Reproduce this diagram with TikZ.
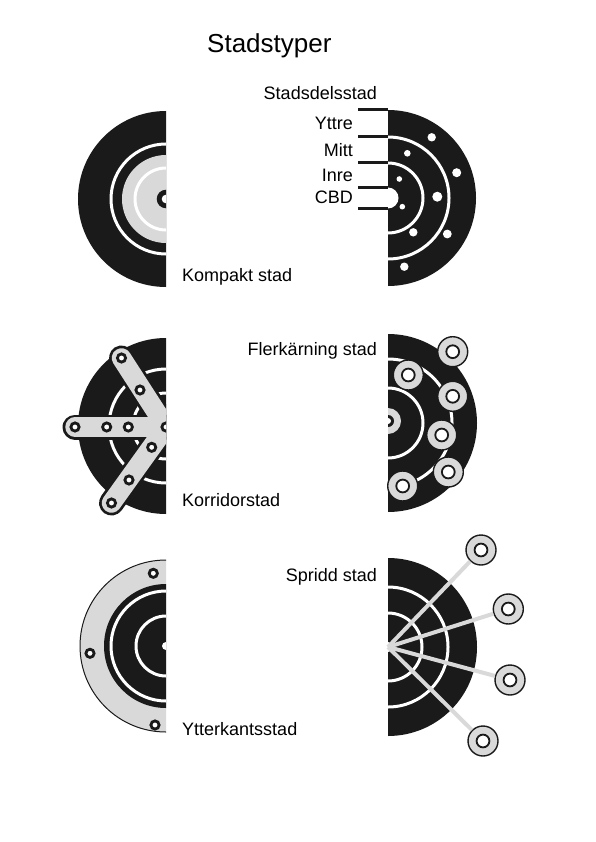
\documentclass[tikz,border=0pt]{standalone}
\usepackage{fontspec}
\setmainfont{Liberation Sans}
\usetikzlibrary{positioning}
\definecolor{cityblack}{RGB}{26,26,26}
\definecolor{citygray}{RGB}{217,217,217}
\tikzset{
    % Zone styles
    ring gap/.style={draw=white, line width=3pt},
    % Marker styles
    hole/.style={circle, draw=cityblack, fill=white, line width=2.8pt,
                 minimum size=8.2pt, inner sep=0pt},
    spot/.style={circle, fill=white, inner sep=0pt},
    subcentre/.style={circle, draw=cityblack, line width=1.4pt, fill=citygray,
                      minimum size=30pt, inner sep=0pt,
                      path picture={\draw[cityblack, line width=1.8pt, fill=white]
                          (path picture bounding box.center) circle[radius=6.4pt];}},
    % Text styles
    title/.style={font=\fontsize{26}{30}\selectfont, inner sep=0pt},
    caption/.style={font=\fontsize{18}{20}\selectfont, inner sep=0pt},
    % Line styles
    tick/.style={cityblack, line width=3pt},
    spoke/.style={citygray, line width=4pt},
}

\begin{document}
\begin{tikzpicture}[
    x=1pt, y=-1pt,
    corridor edge/.style={cityblack, line width=25pt, line cap=round},
    corridor/.style={citygray, line width=19.5pt, line cap=round},
]
    \useasboundingbox (0,0) rectangle (595,842);

    % Title
    \node[title, anchor=base west] (title) at (207,53) {Stadstyper};

    % Kompakt stad
    \begin{scope}
        \clip (60,100) rectangle (166,300);
        \fill[cityblack] (166,199) circle[radius=88pt];
        \draw[ring gap] (166,199) circle[radius=55pt];
        \fill[citygray] (166,199) circle[radius=44pt];
        \draw[ring gap] (166,199) circle[radius=31pt];
        \fill[cityblack] (166,199) circle[radius=9.3pt];
        \fill[white] (166,199) circle[radius=4.3pt];
    \end{scope}
    \node[caption, anchor=base west] (kompakt) at (182,281) {Kompakt stad};

    % Stadsdelsstad
    \begin{scope}
        \clip (388,100) rectangle (500,300);
        \fill[cityblack] (388,198) circle[radius=88pt];
        \draw[ring gap] (388,198) circle[radius=61pt];
        \draw[ring gap] (388,198) circle[radius=35pt];
        \fill[white] (388,198) circle[radius=10.5pt];
    \end{scope}
    \foreach \y in {110,137,163,187.5,208.5} {
        \draw[tick] (358,\y) -- (388,\y);
    }
    \foreach \x/\y/\d [count=\i] in {431.7/137.3/8.4, 407.3/153.3/6.6, 456.7/172.7/9,
                                      399.3/179/5.6, 437.3/196.7/10, 402.3/206.7/5.6,
                                      413.3/232.3/8.4, 447.3/234/8.8, 404.3/266.7/8.4} {
        \node[spot, minimum size=\d pt] (dot\i) at (\x,\y) {};
    }
    \node[caption, anchor=base east] (stadsdel) at (377,99.5) {Stadsdelsstad};
    \node[caption, anchor=base east] (yttre) at (353,130) {Yttre};
    \node[caption, anchor=base east] (mitt) at (353,157) {Mitt};
    \node[caption, anchor=base east] (inre) at (353,181.5) {Inre};
    \node[caption, anchor=base east] (cbd) at (353,203.5) {CBD};

    % Korridorstad
    \begin{scope}
        \clip (40,320) rectangle (166,530);
        \fill[cityblack] (166,426) circle[radius=88pt];
        \draw[ring gap] (166,426) circle[radius=57pt];
        \draw[ring gap] (166,426) circle[radius=33pt];
        \coordinate (hub) at (166,427);
        \coordinate (armN) at (121.5,358);
        \coordinate (armW) at (75,427);
        \coordinate (armS) at (111.5,503);
        \foreach \a in {armN,armW,armS} {
            \draw[corridor edge] (hub) -- (\a);
        }
        \foreach \a in {armN,armW,armS} {
            \draw[corridor] (hub) -- (\a);
        }
        \foreach \x/\y [count=\i] in {121.5/358, 140/390, 75/427, 106.7/427, 128.3/427,
                                      151.7/447.3, 129/480, 111.5/503, 166/427} {
            \node[hole] (stop\i) at (\x,\y) {};
        }
    \end{scope}
    \node[caption, anchor=base west] (korridor) at (182,506) {Korridorstad};

    % Flerkarning stad
    \begin{scope}
        \clip (388,320) rectangle (500,530);
        \fill[cityblack] (388,423) circle[radius=89pt];
        \draw[ring gap] (388,423) circle[radius=64pt];
        \draw[ring gap] (388,423) circle[radius=35pt];
        \fill[citygray] (388,421) circle[radius=13pt];
        \fill[cityblack] (388,421) circle[radius=6pt];
        \fill[white] (388,421) circle[radius=3pt];
    \end{scope}
    \foreach \x/\y [count=\i] in {452.7/351.7, 408.3/375, 452.7/396.3,
                                  441.7/435, 448.3/472, 402.7/486} {
        \node[subcentre] (core\i) at (\x,\y) {};
    }
    \node[caption, anchor=base east] (fler) at (377,355.5) {Flerkärning stad};

    % Ytterkantsstad
    \begin{scope}
        \clip (60,550) rectangle (166,745);
        \filldraw[fill=citygray, draw=cityblack, line width=1pt] (166,646) circle[radius=86pt];
        \fill[cityblack] (166,646) circle[radius=62pt];
        \draw[ring gap] (166,646) circle[radius=55pt];
        \draw[ring gap] (166,646) circle[radius=30pt];
        \fill[white] (166,646) circle[radius=4pt];
    \end{scope}
    \foreach \x/\y [count=\i] in {153.3/573.3, 90/653.3, 155/725} {
        \node[hole] (edge\i) at (\x,\y) {};
    }
    \node[caption, anchor=base west] (ytterkant) at (182,735) {Ytterkantsstad};

    % Spridd stad
    \begin{scope}
        \clip (388,550) rectangle (500,745);
        \fill[cityblack] (388,647) circle[radius=89pt];
        \draw[ring gap] (388,647) circle[radius=60pt];
        \draw[ring gap] (388,647) circle[radius=34pt];
        \fill[white] (388,647) circle[radius=5pt];
    \end{scope}
    \coordinate (centre) at (388,647);
    \foreach \x/\y [count=\i] in {481/550, 508.3/609, 510/680, 483/741} {
        \node[subcentre] (sat\i) at (\x,\y) {};
        \draw[spoke] (centre) -- (sat\i);
    }
    \node[caption, anchor=base east] (spridd) at (377,581.5) {Spridd stad};
\end{tikzpicture}
\end{document}
